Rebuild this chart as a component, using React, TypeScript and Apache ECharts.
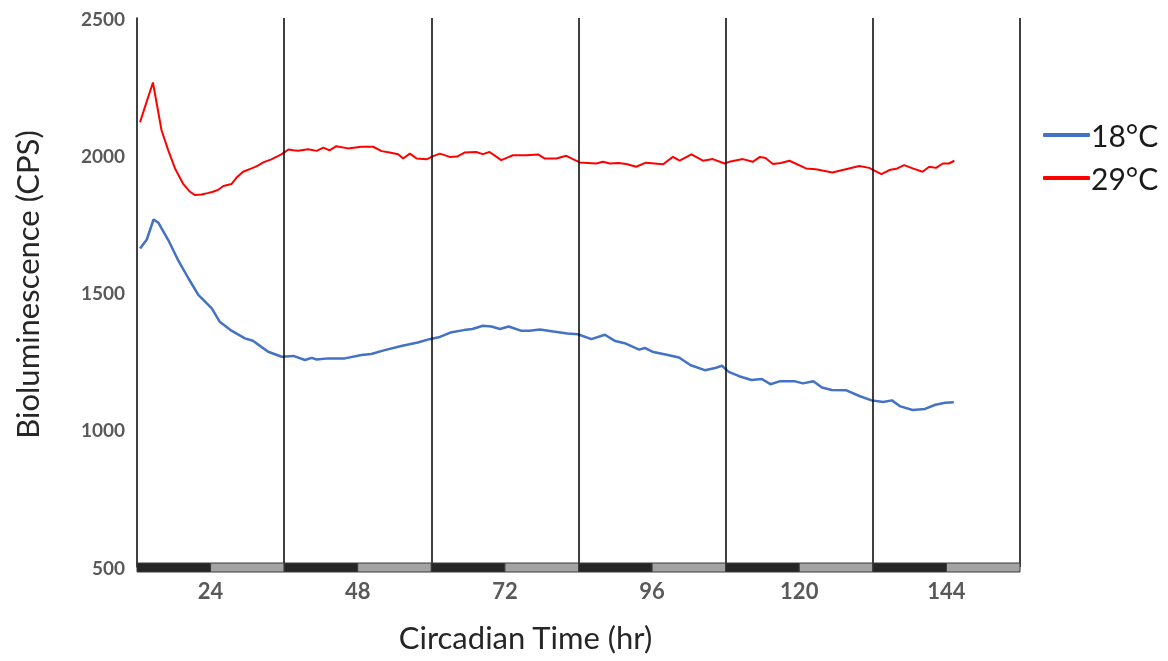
import React, { useEffect, useRef } from "react";
import * as echarts from "echarts";

// Bioluminescence readings, [circadian time (hr), counts per second]
const temp18: [number, number][] = [
  [12.5, 1660], [13.6, 1693], [14.7, 1766], [15.5, 1754], [17.1, 1691], [18.7, 1618],
  [20.4, 1551], [22.0, 1491], [24.2, 1442], [25.5, 1393], [27.4, 1361], [29.6, 1333],
  [30.9, 1324], [33.4, 1284], [35.6, 1266], [37.5, 1269], [39.4, 1254], [40.5, 1262],
  [41.3, 1256], [43.2, 1260], [45.9, 1260], [48.6, 1272], [50.2, 1276], [52.4, 1290],
  [55.1, 1305], [57.8, 1318], [59.7, 1330], [61.4, 1338], [63.1, 1354], [65.3, 1363],
  [66.7, 1367], [68.4, 1379], [69.8, 1376], [71.2, 1367], [72.6, 1376], [74.6, 1361],
  [76.0, 1361], [77.7, 1365], [79.9, 1358], [82.2, 1351], [83.9, 1348], [86.1, 1330],
  [88.3, 1346], [90.0, 1323], [91.7, 1314], [93.9, 1292], [94.8, 1298], [96.2, 1283],
  [98.4, 1273], [100.4, 1263], [102.3, 1235], [104.6, 1217], [106.3, 1225], [107.4, 1233],
  [108.5, 1211], [110.2, 1195], [112.2, 1181], [113.9, 1185], [115.3, 1166], [116.9, 1177],
  [119.2, 1177], [120.6, 1169], [122.3, 1177], [123.7, 1154], [125.3, 1145], [127.6, 1144],
  [129.8, 1123], [131.8, 1107], [133.7, 1101], [135.1, 1107], [136.5, 1085], [138.5, 1072],
  [140.5, 1076], [142.2, 1091], [143.8, 1098], [145.2, 1100],
];

const temp29: [number, number][] = [
  [12.5, 2120], [13.5, 2190], [14.6, 2265], [16.0, 2091], [17.1, 2018], [18.2, 1952],
  [19.5, 1897], [20.5, 1870], [21.4, 1855], [22.5, 1857], [23.5, 1862], [24.4, 1867],
  [25.3, 1875], [26.1, 1888], [27.4, 1895], [28.3, 1920], [29.3, 1940], [30.7, 1952],
  [31.7, 1962], [32.6, 1974], [33.9, 1985], [34.8, 1995], [35.6, 2004], [36.7, 2021],
  [37.5, 2018], [38.3, 2016], [39.9, 2022], [41.3, 2016], [42.4, 2028], [43.4, 2018],
  [44.5, 2033], [46.4, 2025], [48.6, 2031], [50.5, 2031], [51.9, 2015], [53.2, 2010],
  [54.6, 2004], [55.4, 1988], [56.5, 2006], [57.6, 1988], [59.2, 1985], [60.3, 1997],
  [61.4, 2006], [63.0, 1994], [64.2, 1995], [65.4, 2010], [67.3, 2012], [68.4, 2004],
  [69.5, 2012], [71.4, 1982], [73.3, 2000], [75.5, 2000], [77.4, 2003], [78.5, 1988],
  [80.4, 1988], [82.0, 1998], [84.2, 1974], [86.9, 1970], [88.0, 1976], [89.1, 1970],
  [90.5, 1972], [91.8, 1968], [93.4, 1958], [95.0, 1973], [97.8, 1967], [99.4, 1994],
  [100.5, 1980], [102.4, 2003], [104.3, 1980], [105.9, 1986], [107.8, 1970], [108.6, 1976],
  [110.8, 1986], [112.4, 1976], [113.6, 1994], [114.5, 1990], [115.7, 1968], [117.0, 1972],
  [118.4, 1980], [121.1, 1952], [122.7, 1949], [125.4, 1937], [127.6, 1949], [129.8, 1961],
  [131.4, 1954], [133.4, 1931], [134.7, 1946], [136.0, 1952], [137.1, 1964], [138.5, 1952],
  [140.1, 1940], [141.2, 1958], [142.3, 1954], [143.4, 1970], [144.4, 1970], [145.3, 1980],
];

// Light/dark schedule: [start, end, isDark]
const photoperiods: [number, number, number][] = [
  [12, 24, 1], [24, 36, 0], [36, 48, 1], [48, 60, 0], [60, 72, 1], [72, 84, 0],
  [84, 96, 1], [96, 108, 0], [108, 120, 1], [120, 132, 0], [132, 144, 1], [144, 156, 0],
];

// Vertical day dividers
const dividers = [36, 60, 84, 108, 132, 156];

const xTickLabels = [24, 48, 72, 96, 120, 144];

const FONT = "Lato, 'Open Sans', sans-serif";

export default function App() {
  const ref = useRef<HTMLDivElement>(null);

  useEffect(() => {
    if (!ref.current) return;
    const chart = echarts.init(ref.current, undefined, { renderer: "svg" });
    chart.setOption({
      animation: false,
      textStyle: { fontFamily: FONT },
      grid: { left: 137, right: 148, top: 18, bottom: 94, containLabel: false },
      legend: {
        orient: "vertical",
        left: 1038,
        top: 115,
        itemWidth: 47,
        itemHeight: 4,
        itemGap: 13,
        icon: "roundRect",
        textStyle: { fontFamily: FONT, fontSize: 30, color: "#1a1a1a", padding: [0, 0, 0, -4] },
        data: [
          { name: "18°C", itemStyle: { color: "#4472C4" } },
          { name: "29°C", itemStyle: { color: "#FF0000" } },
        ],
      },
      xAxis: {
        type: "value",
        min: 12,
        max: 156,
        interval: 12,
        name: "Circadian Time (hr)",
        nameLocation: "middle",
        nameGap: 54,
        nameTextStyle: {
          fontFamily: FONT,
          fontSize: 31,
          color: "#262626",
          padding: [0, 106, 0, 0],
        },
        axisLine: { show: true, onZero: false, lineStyle: { color: "#d9d9d9", width: 1 } },
        axisTick: { show: false },
        splitLine: { show: false },
        axisLabel: {
          margin: 12,
          fontFamily: FONT,
          fontSize: 22,
          fontWeight: "bold",
          color: "#595959",
          formatter: (v: number) => (xTickLabels.includes(v) ? String(v) : ""),
        },
      },
      yAxis: {
        type: "value",
        min: 500,
        max: 2500,
        interval: 500,
        name: "Bioluminescence (CPS)",
        nameLocation: "middle",
        nameGap: 95,
        nameTextStyle: {
          fontFamily: FONT,
          fontSize: 31,
          color: "#262626",
          padding: [0, 0, 0, 16],
        },
        axisLine: { show: true, lineStyle: { color: "#000", width: 1.5 } },
        axisTick: { show: false },
        splitLine: { show: false },
        axisLabel: {
          margin: 12,
          fontFamily: FONT,
          fontSize: 19,
          fontWeight: "bold",
          color: "#595959",
          formatter: (v: number) => String(v),
        },
      },
      series: [
        {
          name: "dividers",
          type: "line",
          data: [],
          silent: true,
          markLine: {
            silent: true,
            symbol: "none",
            label: { show: false },
            lineStyle: { color: "#000", width: 1.5, type: "solid" },
            data: dividers.map((d) => ({ xAxis: d })),
          },
        },
        {
          name: "18°C",
          type: "line",
          data: temp18,
          showSymbol: false,
          lineStyle: { color: "#4472C4", width: 2.5 },
          itemStyle: { color: "#4472C4" },
        },
        {
          name: "29°C",
          type: "line",
          data: temp29,
          showSymbol: false,
          lineStyle: { color: "#FF0000", width: 2 },
          itemStyle: { color: "#FF0000" },
        },
        {
          name: "photoperiod",
          type: "custom",
          silent: true,
          clip: false,
          z: 5,
          data: photoperiods,
          renderItem: (params: any, api: any) => {
            const start = api.coord([api.value(0), 500]);
            const end = api.coord([api.value(1), 500]);
            const dark = api.value(2) === 1;
            return {
              type: "rect",
              shape: { x: start[0], y: start[1] - 4, width: end[0] - start[0], height: 9 },
              style: { fill: dark ? "#262626" : "#a3a3a3", stroke: "#3a3a3a", lineWidth: 1 },
            };
          },
        },
      ],
    });
    return () => chart.dispose();
  }, []);

  return (
    <div
      ref={ref}
      style={{ position: "fixed", left: 0, top: 0, width: 1168, height: 661 }}
    />
  );
}
